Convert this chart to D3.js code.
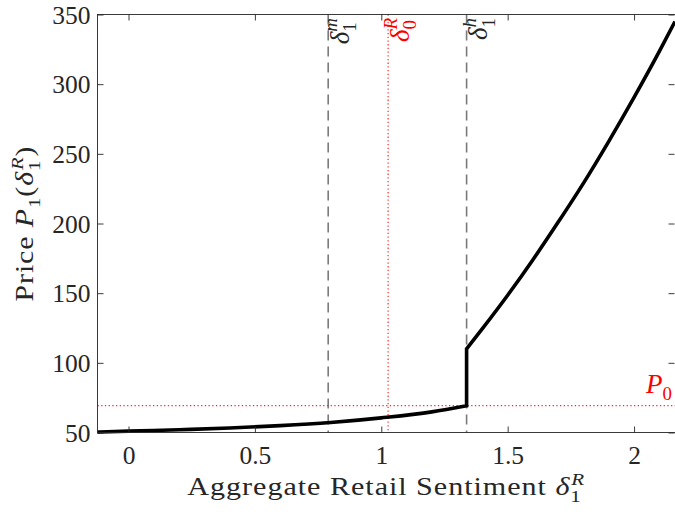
<!DOCTYPE html>
<html>
<head>
<meta charset="utf-8">
<script src="https://cdn.jsdelivr.net/npm/d3@7"></script>
<style>
html,body{margin:0;padding:0;background:#fff;}
svg{display:block;}
text{font-family:"Liberation Serif","Times New Roman",serif;fill:#262626;}
</style>
</head>
<body>
<svg id="chart" width="675" height="514"></svg>
<script>
// ---- data ----
const xLimits = [-0.1227, 2.162];
const yLimits = [50, 350];
const xTicks = [0, 0.5, 1, 1.5, 2];
const yTicks = [50, 100, 150, 200, 250, 300, 350];
const xTickLabels = ["0", "0.5", "1", "1.5", "2"];
const yTickLabels = ["50", "100", "150", "200", "250", "300", "350"];

// lower branch of price curve (before threshold)
const lowX = [-0.1227, 0, 0.2, 0.4, 0.6, 0.8, 1.0, 1.2, 1.3375];
const lowY = [50.3, 51.0, 52.0, 53.2, 54.9, 57.2, 60.5, 64.8, 69.2];
// upper branch of price curve (after jump)
const highX = [1.3375, 1.4, 1.5, 1.6, 1.7, 1.8, 1.9, 2.0, 2.1, 2.162];
const highY = [110, 124.5, 148.5, 174, 201, 229, 259, 290.5, 323.5, 345];

// reference lines
const deltaM = 0.79;    // δ1^m
const delta0R = 1.027;  // δ0^R
const deltaH = 1.3375;  // δ1^h
const P0 = 69.3;

// ---- layout ----
const svg = d3.select("#chart");
const L = 97.5, R = 675, T = 14.5, B = 432.5;
const x = d3.scaleLinear().domain(xLimits).range([L, R]);
const y = d3.scaleLinear().domain(yLimits).range([B, T]);
const axisColor = "#262626";

function textWidth(str, size, italic) {
  const t = svg.append("text").attr("font-size", size)
    .attr("font-style", italic ? "italic" : "normal").text(str);
  const w = t.node().getComputedTextLength();
  t.remove();
  return w;
}

// math text builder: parts = [{t, it, sub, sup}]
function mathText(sel, parts, size) {
  let shift = 0;
  const sSub = size * 0.7;
  parts.forEach(p => {
    sel.append("tspan").attr("font-style", p.it ? "italic" : "normal")
      .attr("font-size", size).attr("dy", -shift).text(p.t);
    shift = 0;
    if (p.sub !== undefined || p.sup !== undefined) {
      const subOff = size * 0.28, supOff = -size * 0.42;
      const ws = textWidth(p.sub || "", sSub, false);
      if (p.sub !== undefined) {
        sel.append("tspan").attr("font-size", sSub).attr("font-style", "normal")
          .attr("dy", subOff).text(p.sub);
        shift = subOff;
      }
      if (p.sup !== undefined) {
        sel.append("tspan").attr("font-size", sSub).attr("font-style", "italic")
          .attr("dx", p.sub !== undefined ? -ws : 0)
          .attr("dy", supOff - shift).text(p.sup);
        shift = supOff;
      }
    }
  });
}

// ---- reference lines ----
const refG = svg.append("g");
[deltaM, deltaH].forEach(v => {
  refG.append("line").attr("x1", x(v)).attr("x2", x(v)).attr("y1", T).attr("y2", B)
    .attr("stroke", "#7a7a7a").attr("stroke-width", 1.6).attr("stroke-dasharray", "10,6");
});
refG.append("line").attr("x1", x(delta0R)).attr("x2", x(delta0R)).attr("y1", T).attr("y2", B)
  .attr("stroke", "#ff2a2a").attr("stroke-width", 1.2).attr("stroke-dasharray", "1.3,2.4");
refG.append("line").attr("x1", L).attr("x2", R).attr("y1", y(P0)).attr("y2", y(P0))
  .attr("stroke", "#ff2a2a").attr("stroke-width", 1.2).attr("stroke-dasharray", "1.3,2.4");

// ---- curve ----
const line = d3.line().x(d => x(d[0])).y(d => y(d[1])).curve(d3.curveMonotoneX);
const lowPts = lowX.map((v, i) => [v, lowY[i]]);
const highPts = highX.map((v, i) => [v, highY[i]]);
svg.append("path")
  .attr("d", line(lowPts) + "L" + x(highPts[0][0]) + "," + y(highPts[0][1]) + line(highPts).replace(/^M[^CL]*/, ""))
  .attr("fill", "none").attr("stroke", "#000").attr("stroke-width", 3.6)
  .attr("stroke-linejoin", "miter");

// ---- axes box ----
svg.append("rect").attr("x", L).attr("y", T).attr("width", R - L + 2).attr("height", B - T)
  .attr("fill", "none").attr("stroke", axisColor).attr("stroke-width", 0.9);

const axB = d3.axisBottom(x).tickValues(xTicks).tickSize(-6).tickFormat((d, i) => xTickLabels[i]);
const axT = d3.axisTop(x).tickValues(xTicks).tickSize(-6).tickFormat("");
const axL = d3.axisLeft(y).tickValues(yTicks).tickSize(-6).tickFormat((d, i) => yTickLabels[i]);
const axR = d3.axisRight(y).tickValues(yTicks).tickSize(-6).tickFormat("");

function styleAxis(g) {
  g.select(".domain").remove();
  g.selectAll(".tick line").attr("stroke", axisColor).attr("stroke-width", 0.9);
  g.selectAll(".tick text").attr("fill", "#262626")
    .attr("font-family", "Liberation Serif, serif").attr("font-size", 25.5);
}
const gB = svg.append("g").attr("transform", `translate(0,${B})`).call(axB).call(styleAxis);
gB.selectAll(".tick text").attr("dy", 0).attr("y", 31);
svg.append("g").attr("transform", `translate(0,${T})`).call(axT).call(styleAxis);
const gL = svg.append("g").attr("transform", `translate(${L},0)`).call(axL).call(styleAxis);
gL.selectAll(".tick text").attr("x", -7).attr("dy", "0.34em");
svg.append("g").attr("transform", `translate(${R - 0.5},0)`).call(axR).call(styleAxis);

// stretch a text horizontally (in its own frame) to a target length, like the wide LaTeX font
function fitText(t, target) {
  const w = t.node().getBBox().width;
  return target / w;
}

// ---- axis labels ----
const xlG = svg.append("g").attr("transform", `translate(${(L + R) / 2},495)`);
const xl = xlG.append("text").attr("text-anchor", "middle").attr("letter-spacing", 0.8);
mathText(xl, [{t: "Aggregate Retail Sentiment "}, {t: "δ", it: true, sub: "1", sup: "R"}], 25);
xl.attr("transform", `scale(${fitText(xl, 398)},1)`);

const ylG = svg.append("g").attr("transform", `translate(33,${(T + B) / 2}) rotate(-90)`);
const yl = ylG.append("text").attr("text-anchor", "middle").attr("letter-spacing", 0.8);
mathText(yl, [{t: "Price "}, {t: "P", it: true, sub: "1"}, {t: "("}, {t: "δ", it: true, sub: "1", sup: "R"}, {t: ")"}], 25);
yl.attr("transform", `scale(${fitText(yl, 156)},1)`);

// ---- line annotations ----
function vLabel(v, sup, sub, color) {
  const t = svg.append("text").attr("transform", `translate(${x(v) + 20.5},18) rotate(-90)`)
    .attr("text-anchor", "end");
  mathText(t, [{t: "δ", it: true, sub: sub, sup: sup}], 27);
  t.selectAll("tspan").style("fill", color);
}
vLabel(deltaM, "m", "1", "#262626");
vLabel(delta0R, "R", "0", "#ff0000");
vLabel(deltaH, "h", "1", "#262626");

const p0 = svg.append("text").attr("x", 672).attr("y", y(P0) - 13).attr("text-anchor", "end");
mathText(p0, [{t: "P", it: true, sub: "0"}], 27);
p0.selectAll("tspan").style("fill", "#ff0000");
</script>
</body>
</html>
